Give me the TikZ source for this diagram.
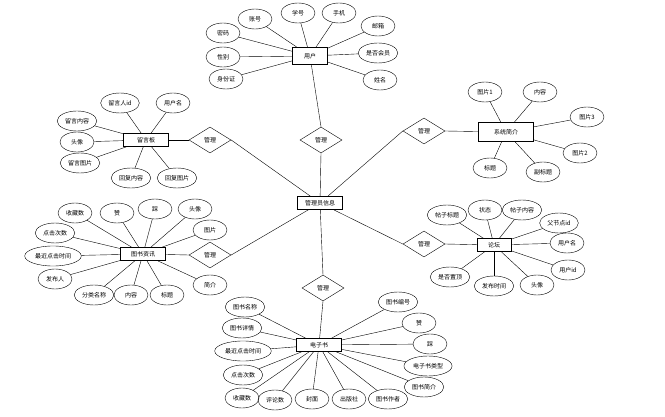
\documentclass[tikz,border=0pt]{standalone}
\usepackage{fontspec}
\newfontfamily\cjk{Noto Sans CJK SC}
\usetikzlibrary{shapes.geometric}

\begin{document}
\begin{tikzpicture}[x=1pt, y=-1pt,
    every node/.style={font=\cjk\fontsize{6}{7}\selectfont},
    attr/.style={draw, ellipse, thin, minimum width=34pt, minimum height=20pt, inner xsep=2pt, inner ysep=1pt},
    entbox/.style={draw, thick, rectangle, minimum width=45pt, minimum height=13pt, inner sep=1pt},
    reldiam/.style={draw, diamond, thin, minimum width=42pt, minimum height=26pt, inner sep=0pt},
    link/.style={thin}
]
\useasboundingbox (0,0) rectangle (665,417);

% centre entity and relations
\node[entbox] (admin) at (320,203) {管理员信息};
\node[reldiam] (gl1) at (321,140) {管理};
\node[reldiam] (gl2) at (210,140) {管理};
\node[reldiam] (gl3) at (424,131) {管理};
\node[reldiam] (gl4) at (210,255) {管理};
\node[reldiam] (gl5) at (424,244) {管理};
\node[reldiam] (gl6) at (323,288) {管理};

% entities
\node[entbox, minimum width=35pt, minimum height=17pt] (yonghu) at (310,56) {用户};
\node[entbox] (liuyan) at (146,140) {留言板};
\node[entbox, minimum width=55pt, minimum height=19pt] (xitong) at (506,132) {系统简介};
\node[entbox] (zixun) at (143,254) {图书资讯};
\node[entbox, minimum width=34pt] (luntan) at (494,245) {论坛};
\node[entbox] (dianzi) at (319,345) {电子书};

\draw[link] (yonghu) -- (gl1.north);
\draw[link] (gl1.south) -- (admin);
\draw[link] (liuyan) -- (gl2.west);
\draw[link] (gl2.east) -- (admin);
\draw[link] (xitong) -- (gl3.east);
\draw[link] (gl3.west) -- (admin);
\draw[link] (zixun) -- (gl4.west);
\draw[link] (gl4.east) -- (admin);
\draw[link] (luntan) -- (gl5.east);
\draw[link] (gl5.west) -- (admin);
\draw[link] (dianzi) -- (gl6.south);
\draw[link] (gl6.north) -- (admin);

% user attributes
\foreach \n/\x/\y/\txt in {1/255/19/账号, 2/298/13/学号, 3/339/13/手机, 4/378/26/邮箱,
  5/378/53/是否会员, 6/380/80/姓名, 7/223/33/密码, 8/223/57/性别, 9/226/79/身份证}{
  \node[attr] (yh\n) at (\x,\y) {\txt};
  \draw[link] (yonghu) -- (yh\n);
}

% message board attributes
\foreach \n/\x/\y/\txt in {1/120/103/留言人id, 2/173/103/用户名, 3/77/121/留言内容, 4/77/142/头像,
  5/80/163/留言图片, 6/131/178/回复内容, 7/177/178/回复图片}{
  \node[attr] (ly\n) at (\x,\y) {\txt};
  \draw[link] (liuyan) -- (ly\n);
}

% system intro attributes
\foreach \n/\x/\y/\txt in {1/485/92/图片1, 2/540/92/内容, 3/587/117/图片3, 4/580/153/图片2,
  5/490/168/标题, 6/543/172/副标题}{
  \node[attr] (xt\n) at (\x,\y) {\txt};
  \draw[link] (xitong) -- (xt\n);
}

% book news attributes
\foreach \n/\x/\y/\txt in {1/75/213/收藏数, 2/117/213/赞, 3/155/209/踩, 4/195/209/头像,
  5/210/230/图片, 6/55/233/点击次数, 7/53/256/最近点击时间, 8/55/279/发布人,
  9/94/295/分类名称, 10/131/295/内容, 11/167/295/标题, 12/210/285/简介}{
  \node[attr] (zx\n) at (\x,\y) {\txt};
  \draw[link] (zixun) -- (zx\n);
}

% forum attributes
\foreach \n/\x/\y/\txt in {1/447/215/帖子标题, 2/485/210/状态, 3/522/210/帖子内容, 4/559/223/父节点id,
  5/567/243/用户名, 6/568/270/用户id, 7/537/285/头像, 8/494/286/发布时间, 9/450/277/是否置顶}{
  \node[attr] (lt\n) at (\x,\y) {\txt};
  \draw[link] (luntan) -- (lt\n);
}

% e-book attributes
\foreach \n/\x/\y/\txt in {1/245/307/图书名称, 2/242/328/图书详情, 3/243/351/最近点击时间,
  4/243/375/点击次数, 5/242/398/收藏数, 6/275/400/评论数, 7/312/399/封面, 8/349/399/出版社,
  9/388/399/图书作者, 10/424/387/图书简介, 11/428/366/电子书类型, 12/430/344/踩,
  13/419/323/赞, 14/398/302/图书编号}{
  \node[attr] (dz\n) at (\x,\y) {\txt};
  \draw[link] (dianzi) -- (dz\n);
}
\end{tikzpicture}
\end{document}
